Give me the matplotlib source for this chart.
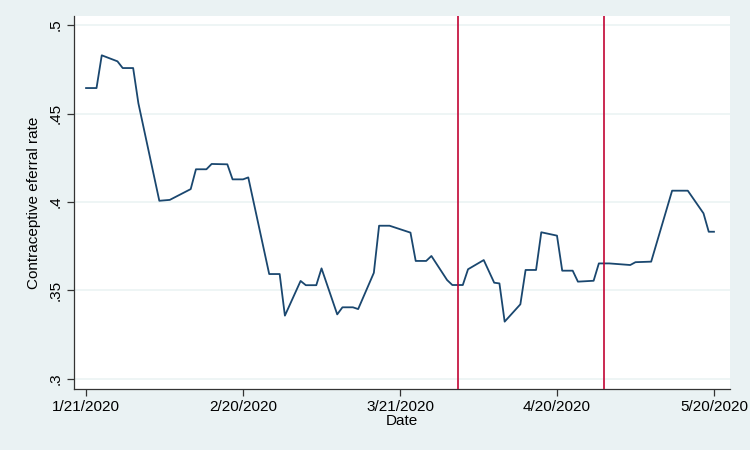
import pandas as pd
import matplotlib
matplotlib.use("Agg")
import matplotlib.pyplot as plt
import matplotlib.dates as mdates

plt.rcParams["font.family"] = ["Liberation Sans", "DejaVu Sans"]

# ── Data ─────────────────────────────────────────────────────────────────────
dates = [
    "2020-01-21", "2020-01-23", "2020-01-24", "2020-01-27", "2020-01-28",
    "2020-01-30", "2020-01-31", "2020-02-04", "2020-02-06", "2020-02-10",
    "2020-02-11", "2020-02-13", "2020-02-14", "2020-02-17", "2020-02-18",
    "2020-02-20", "2020-02-21", "2020-02-25", "2020-02-27", "2020-02-28",
    "2020-03-02", "2020-03-03", "2020-03-05", "2020-03-06", "2020-03-09",
    "2020-03-10", "2020-03-12", "2020-03-13", "2020-03-16", "2020-03-17",
    "2020-03-19", "2020-03-23", "2020-03-24", "2020-03-26", "2020-03-27",
    "2020-03-30", "2020-03-31", "2020-04-02", "2020-04-03", "2020-04-06",
    "2020-04-08", "2020-04-09", "2020-04-10", "2020-04-13", "2020-04-14",
    "2020-04-16", "2020-04-17", "2020-04-20", "2020-04-21", "2020-04-23",
    "2020-04-24", "2020-04-27", "2020-04-28", "2020-04-30", "2020-05-04",
    "2020-05-05", "2020-05-08", "2020-05-12", "2020-05-15", "2020-05-18",
    "2020-05-19", "2020-05-20",
]
rate = [
    0.4644, 0.4644, 0.4829, 0.4795, 0.4757,
    0.4757, 0.4558, 0.4007, 0.4012, 0.4073,
    0.4185, 0.4185, 0.4215, 0.4213, 0.4128,
    0.4128, 0.4139, 0.3593, 0.3593, 0.3358,
    0.3554, 0.3530, 0.3530, 0.3625, 0.3365,
    0.3405, 0.3405, 0.3395, 0.3600, 0.3866,
    0.3866, 0.3827, 0.3667, 0.3667, 0.3695,
    0.3559, 0.3531, 0.3531, 0.3620, 0.3672,
    0.3544, 0.3540, 0.3324, 0.3422, 0.3616,
    0.3616, 0.3829, 0.3810, 0.3612, 0.3612,
    0.3550, 0.3555, 0.3653, 0.3653, 0.3644,
    0.3660, 0.3663, 0.4064, 0.4064, 0.3936,
    0.3832, 0.3832,
]
event_dates = ["2020-04-01", "2020-04-29"]
xtick_dates = ["2020-01-21", "2020-02-20", "2020-03-21", "2020-04-20", "2020-05-20"]
yticks = [0.3, 0.35, 0.4, 0.45, 0.5]
ytick_labels = [".3", ".35", ".4", ".45", ".5"]

dates = pd.to_datetime(dates)
event_dates = pd.to_datetime(event_dates)
xtick_dates = pd.to_datetime(xtick_dates)

# ── Figure (Stata s2color look) ─────────────────────────────────────────────
BG = "#EAF2F3"
fig = plt.figure(figsize=(7.5, 4.5), dpi=100)
fig.patch.set_facecolor(BG)
ax = fig.add_axes([0.0987, 0.1356, 0.8746, 0.8288])
ax.set_facecolor("white")

for y in yticks:
    ax.axhline(y, color=BG, linewidth=1.1, zorder=1)

ax.plot(dates, rate, color="#1A476F", linewidth=1.3, zorder=3)

for d in event_dates:
    ax.axvline(d, color="#C10534", linewidth=1.2, zorder=4)

ax.set_xlim(pd.Timestamp("2020-01-21") - pd.Timedelta(days=2.3),
            pd.Timestamp("2020-01-21") + pd.Timedelta(days=123.06))
ax.set_ylim(0.29435, 0.5051)

ax.set_xticks(xtick_dates)
ax.set_xticklabels([f"{d.month}/{d.day}/{d.year}" for d in xtick_dates], fontsize=11)
ax.set_yticks(yticks)
ax.set_yticklabels(ytick_labels, fontsize=11, rotation=90, va="center")

ax.tick_params(axis="both", direction="out", length=5, width=0.9, colors="#333333",
               labelcolor="black")
ax.tick_params(axis="x", pad=3)
ax.tick_params(axis="y", pad=3)

ax.spines[["top", "right"]].set_visible(False)
ax.spines[["left", "bottom"]].set_color("#333333")
ax.spines[["left", "bottom"]].set_linewidth(0.9)

ax.set_xlabel("Date", fontsize=11, labelpad=0)
ax.set_ylabel("Contraceptive eferral rate", fontsize=11, labelpad=6)

fig.savefig("out.png", dpi=100, facecolor=fig.get_facecolor())
